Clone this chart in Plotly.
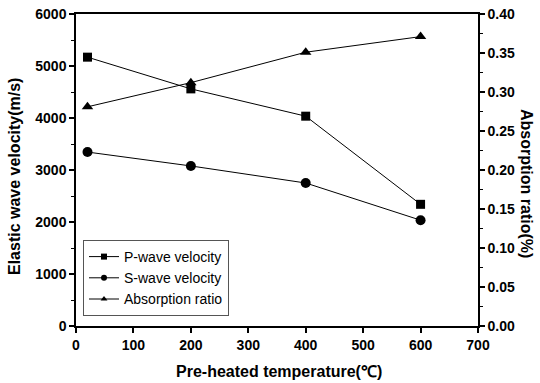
import plotly.graph_objects as go

temps = [20, 200, 400, 600]
p_wave = [5170, 4560, 4035, 2340]
s_wave = [3345, 3078, 2750, 2035]
absorption = [0.281, 0.312, 0.351, 0.371]

series = [
    ("P-wave velocity", p_wave, "square", 9, "y"),
    ("S-wave velocity", s_wave, "circle", 10, "y"),
    ("Absorption ratio", absorption, "triangle-up", 10, "y2"),
]

fig = go.Figure()
for name, vals, sym, size, ax in series:
    fig.add_trace(go.Scatter(x=temps, y=vals, name=name, yaxis=ax, mode="lines+markers",
                             line=dict(color="black", width=1), showlegend=False,
                             marker=dict(symbol=sym, size=size, color="black")))
for name, vals, sym, size, ax in series:
    fig.add_trace(go.Scatter(x=[None], y=[None], name=name, yaxis=ax, mode="lines+markers",
                             line=dict(color="black", width=1),
                             marker=dict(symbol=sym, size=6, color="black")))

FONT = "Arial, Liberation Sans"
tickfont = dict(family=FONT, size=14, color="black", weight="bold")

axis_common = dict(ticks="outside", ticklen=5, tickwidth=1.5, tickcolor="black",
                   showline=True, linecolor="black", linewidth=1.5,
                   showgrid=False, zeroline=False, automargin=False, tickfont=tickfont)

PW, PH, L, B = 402, 312, 76, 326

fig.update_layout(
    width=540, height=383,
    margin=dict(l=76, r=62, t=14, b=57),
    paper_bgcolor="white", plot_bgcolor="white",
    font=dict(family=FONT, color="black"),
    showlegend=True,
    legend=dict(x=(83 - L) / PW, y=(B - 316) / PH, xanchor="left", yanchor="bottom",
                bordercolor="#555", borderwidth=1, bgcolor="white",
                font=dict(size=14, family=FONT, color="black"),
                itemwidth=30, tracegroupgap=0),
    xaxis=dict(range=[0, 700], dtick=100, mirror=True, **axis_common),
    yaxis=dict(range=[0, 6000], dtick=1000,
               minor=dict(dtick=500, ticks="outside", ticklen=3, tickwidth=1, tickcolor="black"),
               **axis_common),
    yaxis2=dict(range=[0, 0.4], dtick=0.05, tickformat=".2f", overlaying="y", side="right",
                minor=dict(dtick=0.025, ticks="outside", ticklen=3, tickwidth=1, tickcolor="black"),
                **axis_common),
    annotations=[
        dict(text="<b>Pre-heated temperature(℃)</b>", xref="paper", yref="paper",
             x=(279 - L) / PW, y=(B - 371) / PH, xanchor="center", yanchor="middle",
             showarrow=False, font=dict(size=16, family=FONT, color="black")),
        dict(text="<b>Elastic wave velocity(m/s)</b>", xref="paper", yref="paper",
             x=(15 - L) / PW, y=(B - 177) / PH, xanchor="center", yanchor="middle", textangle=-90,
             showarrow=False, font=dict(size=16, family=FONT, color="black")),
        dict(text="<b>Absorption ratio(%)</b>", xref="paper", yref="paper",
             x=(527 - L) / PW, y=(B - 183) / PH, xanchor="center", yanchor="middle", textangle=90,
             showarrow=False, font=dict(size=16, family=FONT, color="black")),
    ],
)

fig.write_html("out.html")
